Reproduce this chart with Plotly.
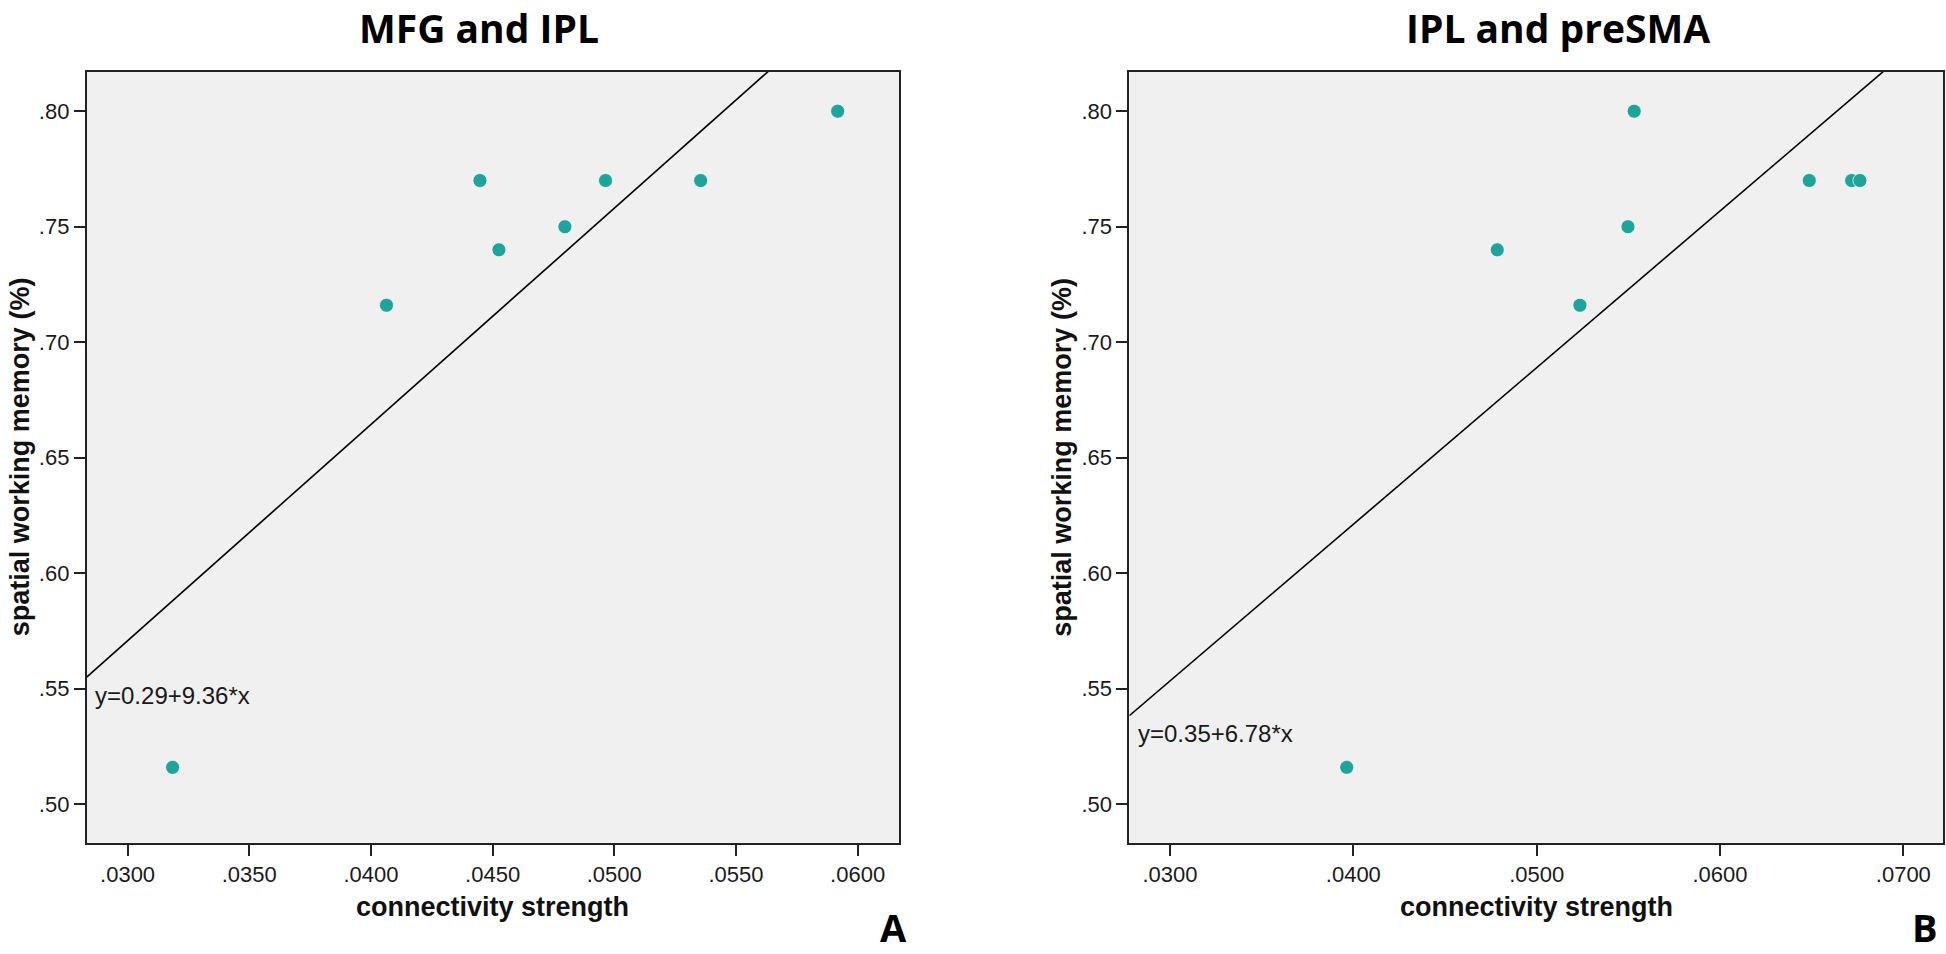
import plotly.graph_objects as go

# ---------------- data ----------------
panel_titles = ["MFG and IPL", "IPL and preSMA"]
panel_letters = ["A", "B"]
x_title = "connectivity strength"
y_title = "spatial working memory (%)"

a_x = [0.03185, 0.04064, 0.04448, 0.04526, 0.04797, 0.04964, 0.05355, 0.05918]
a_y = [0.516, 0.716, 0.770, 0.740, 0.750, 0.770, 0.770, 0.800]
b_x = [0.03964, 0.05236, 0.04785, 0.05498, 0.05532, 0.06487, 0.06718, 0.06763]
b_y = [0.516, 0.716, 0.740, 0.750, 0.800, 0.770, 0.770, 0.770]

a_fit = [0.29, 9.36]   # intercept, slope
b_fit = [0.35, 6.78]
a_eq = "y=0.29+9.36*x"
b_eq = "y=0.35+6.78*x"

y_ticks = [0.50, 0.55, 0.60, 0.65, 0.70, 0.75, 0.80]
y_ticktext = [".50", ".55", ".60", ".65", ".70", ".75", ".80"]
a_xticks = [0.0300, 0.0350, 0.0400, 0.0450, 0.0500, 0.0550, 0.0600]
a_xticktext = [".0300", ".0350", ".0400", ".0450", ".0500", ".0550", ".0600"]
b_xticks = [0.0300, 0.0400, 0.0500, 0.0600, 0.0700]
b_xticktext = [".0300", ".0400", ".0500", ".0600", ".0700"]

# ---------------- layout constants ----------------
W, H = 1946, 954
a_range = [0.02832, 0.0617]
b_range = [0.02778, 0.07218]
y_range = [0.48338, 0.8171]
a_dom = [86.7 / W, 899.0 / W]
b_dom = [1129.3 / W, 1943.3 / W]
y_dom = [1 - 842.7 / H, 1 - 71.7 / H]

PT_COLOR = "#1fa49c"
BG = "#f0f0f0"
TICK_FONT = dict(family="Liberation Sans, Arial, sans-serif", size=22, color="#1a1a1a")

fig = go.Figure()

def add_panel(xs, ys, fit, xr, xa, ya):
    fig.add_trace(go.Scatter(
        x=xs, y=ys, mode="markers", xaxis=xa, yaxis=ya,
        marker=dict(size=14, color=PT_COLOR, line=dict(width=1, color="rgba(255,255,255,0.7)")),
        hoverinfo="skip", showlegend=False))
    lx = [xr[0], xr[1]]
    ly = [fit[0] + fit[1] * v for v in lx]
    fig.add_trace(go.Scatter(
        x=lx, y=ly, mode="lines", xaxis=xa, yaxis=ya,
        line=dict(color="black", width=1.6),
        hoverinfo="skip", showlegend=False))

add_panel(a_x, a_y, a_fit, a_range, "x", "y")
add_panel(b_x, b_y, b_fit, b_range, "x2", "y2")

axis_common = dict(showgrid=False, zeroline=False, showline=True, linecolor="#222",
                   linewidth=1.8, mirror=True, ticks="outside", ticklen=11, tickwidth=1.6,
                   tickcolor="#222", tickfont=TICK_FONT)

fig.update_layout(
    width=W, height=H, margin=dict(l=0, r=0, t=0, b=0),
    paper_bgcolor="white", plot_bgcolor=BG, showlegend=False,
    xaxis=dict(domain=a_dom, range=a_range, tickvals=a_xticks, ticktext=a_xticktext,
               anchor="y", **axis_common),
    yaxis=dict(domain=y_dom, range=y_range, tickvals=y_ticks, ticktext=y_ticktext,
               anchor="x", **axis_common),
    xaxis2=dict(domain=b_dom, range=b_range, tickvals=b_xticks, ticktext=b_xticktext,
                anchor="y2", **axis_common),
    yaxis2=dict(domain=y_dom, range=y_range, tickvals=y_ticks, ticktext=y_ticktext,
                anchor="x2", **axis_common),
)

title_font = dict(family="Open Sans, Noto Sans, sans-serif", size=39, color="black")
label_font = dict(family="Liberation Sans, Arial, sans-serif", size=27, color="#111")
eq_font = dict(family="Liberation Sans, Arial, sans-serif", size=24, color="#1a1a1a")
letter_font = dict(family="Open Sans, Noto Sans, sans-serif", size=38, color="black")

ann = []
# titles
for txt, cx in zip(panel_titles, [479 / W, 1557.5 / W]):
    ann.append(dict(text="<b>%s</b>" % txt, x=cx, y=1.0, xref="paper", yref="paper",
                    xanchor="center", yanchor="top", borderpad=0, showarrow=False,
                    font=title_font))
# x titles
for dom in [a_dom, b_dom]:
    ann.append(dict(text="<b>%s</b>" % x_title, x=(dom[0] + dom[1]) / 2, y=1 - 906.7 / H,
                    xref="paper", yref="paper", xanchor="center", yanchor="middle",
                    showarrow=False, font=label_font))
# y titles
for cx in [20 / W, 1062.5 / W]:
    ann.append(dict(text="<b>%s</b>" % y_title, x=cx, y=(y_dom[0] + y_dom[1]) / 2,
                    xref="paper", yref="paper", xanchor="center", yanchor="middle",
                    textangle=-90, showarrow=False, font=label_font))
# equations
ann.append(dict(text=a_eq, x=0.02859, y=0.547, xref="x", yref="y", xanchor="left",
                yanchor="middle", showarrow=False, font=eq_font))
ann.append(dict(text=b_eq, x=0.02815, y=0.5305, xref="x2", yref="y2", xanchor="left",
                yanchor="middle", showarrow=False, font=eq_font))
# panel letters
for txt, cx in zip(panel_letters, [893 / W, 1925 / W]):
    ann.append(dict(text="<b>%s</b>" % txt, x=cx, y=0.0, xref="paper", yref="paper",
                    xanchor="center", yanchor="bottom", borderpad=0, showarrow=False,
                    font=letter_font))

fig.update_layout(annotations=ann)
fig.write_html("out.html", config={"displayModeBar": False},
               post_script="document.body.style.margin='0';document.body.style.overflow='hidden';")
